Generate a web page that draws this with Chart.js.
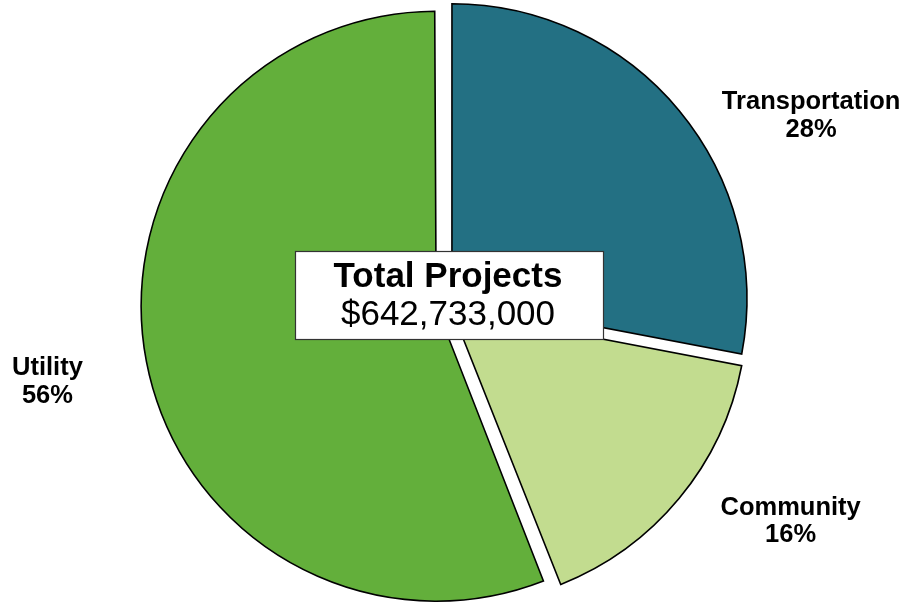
<!DOCTYPE html>
<html>
<head>
<meta charset="utf-8">
<script src="https://cdn.jsdelivr.net/npm/chart.js@4/dist/chart.umd.min.js"></script>
<style>
  html, body { margin: 0; padding: 0; background: #fff; }
  #wrap { position: relative; width: 907px; height: 602px; }
</style>
</head>
<body>
<div id="wrap"><canvas id="pie" width="907" height="602"></canvas></div>
<script>
// Data
const categories = ['Transportation', 'Community', 'Utility'];
const shares = [28, 16, 56];
const sliceColors = ['#237083', '#C2DC8F', '#63AF3B'];
const centerTitle = 'Total Projects';
const totalAmount = 642733000;

// how far each slice is pulled out (Chart.js moves the arc by offset/4)
const sliceOffset = [36, 36, 36];
// where the category labels sit: degrees clockwise from 12 o'clock, distance from centre
const labelPlace = [
  { angle: 62.7, dist: 412 },
  { angle: 122.1, dist: 408 },
  { angle: 259, dist: 405 }
];

const FONT = '"Liberation Sans", Arial, Helvetica, sans-serif';

// Chart.js grows slices wider than 180deg by offset/4; undo it so all radii match
const evenRadius = {
  id: 'evenRadius',
  afterDatasetUpdate(chart, args) {
    args.meta.data.forEach(function(arc, i){
      const shift = sliceOffset[i] / 4;
      const fix = 1 - Math.sin(Math.min(Math.PI, arc.circumference));
      arc.outerRadius -= shift * fix;
    });
  }
};

const pieLabels = {
  id: 'pieLabels',
  afterDraw(chart) {
    const ctx = chart.ctx;
    const arc0 = chart.getDatasetMeta(0).data[0];
    const cx = arc0.x, cy = arc0.y;
    ctx.save();
    // category labels
    ctx.fillStyle = '#000';
    ctx.textAlign = 'center';
    ctx.textBaseline = 'middle';
    ctx.font = 'bold 25.5px ' + FONT;
    categories.forEach(function(name, i){
      const a = labelPlace[i].angle * Math.PI / 180;
      const x = cx + Math.sin(a) * labelPlace[i].dist;
      const y = cy - Math.cos(a) * labelPlace[i].dist;
      ctx.fillText(name, x, y - 13.5);
      ctx.fillText(shares[i] + '%', x, y + 14);
    });
    // centre box
    const bx = cx + 4, by = cy - 9.5, bw = 308, bh = 88;
    ctx.fillStyle = '#fff';
    ctx.fillRect(bx - bw / 2, by - bh / 2, bw, bh);
    ctx.strokeStyle = '#333';
    ctx.lineWidth = 1.2;
    ctx.strokeRect(Math.round(bx - bw / 2) + 0.5, Math.round(by - bh / 2) + 0.5, bw, bh);
    ctx.fillStyle = '#000';
    ctx.textBaseline = 'alphabetic';
    ctx.font = 'bold 35px ' + FONT;
    ctx.fillText(centerTitle, cx + 3, cy - 17.5);
    ctx.font = '35px ' + FONT;
    ctx.fillText('$' + totalAmount.toLocaleString('en-US'), cx + 3, cy + 20.5);
    ctx.restore();
  }
};

new Chart(document.getElementById('pie'), {
  type: 'pie',
  data: {
    labels: categories,
    datasets: [{
      data: shares,
      backgroundColor: sliceColors,
      borderColor: '#000',
      borderWidth: 1.6,
      borderJoinStyle: 'miter',
      offset: sliceOffset
    }]
  },
  options: {
    responsive: false,
    animation: false,
    radius: 295,
    layout: { padding: { left: 0, right: 17, top: 7, bottom: 0 } },
    plugins: {
      legend: { display: false },
      tooltip: { enabled: false }
    }
  },
  plugins: [evenRadius, pieLabels]
});
</script>
</body>
</html>
